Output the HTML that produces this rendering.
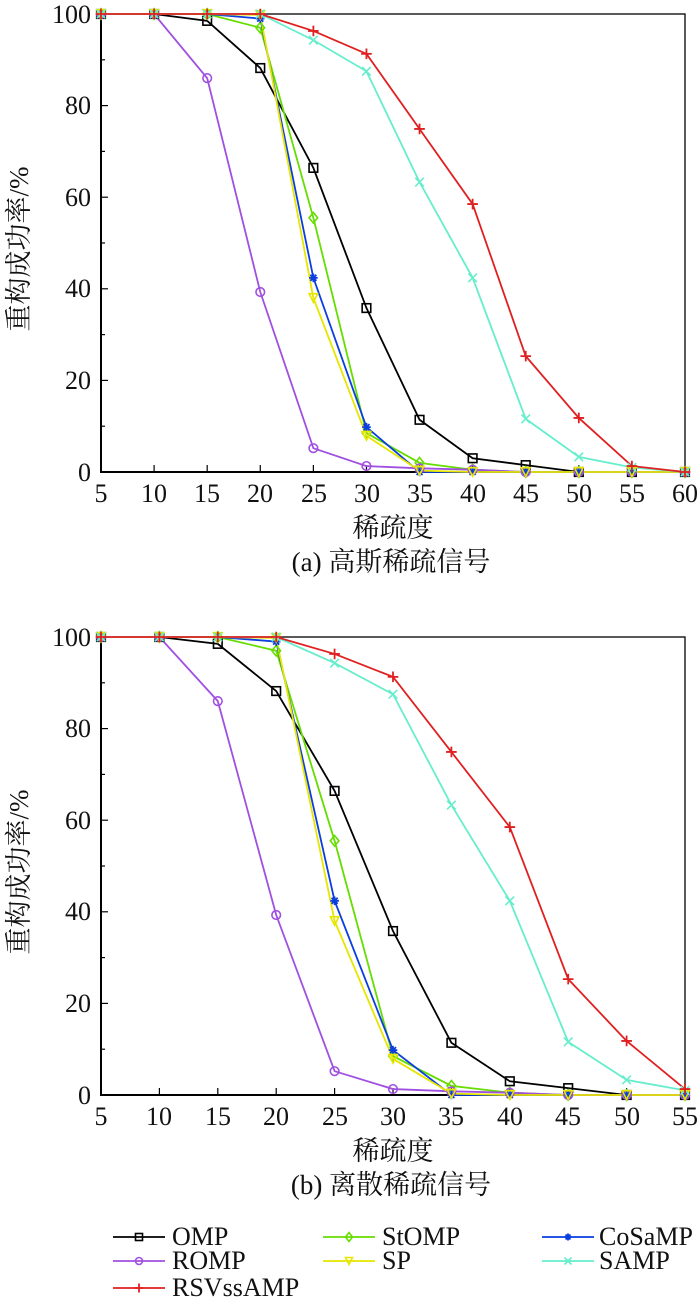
<!DOCTYPE html>
<html><head><meta charset="utf-8"><style>
html,body{margin:0;padding:0;background:#fff}
svg{display:block}
text{font-family:"Liberation Serif","Noto Serif CJK SC",serif;fill:#111}
</style></head><body>
<svg id="s" width="700" height="1306" viewBox="0 0 700 1306" xmlns="http://www.w3.org/2000/svg">
<g font-size="26">
<text x="91" y="23" text-anchor="end">100</text>
<text x="91" y="114" text-anchor="end">80</text>
<text x="91" y="206" text-anchor="end">60</text>
<text x="91" y="297" text-anchor="end">40</text>
<text x="91" y="389" text-anchor="end">20</text>
<text x="91" y="481" text-anchor="end">0</text>
<text x="101" y="502" text-anchor="middle">5</text>
<text x="154" y="502" text-anchor="middle">10</text>
<text x="207" y="502" text-anchor="middle">15</text>
<text x="260" y="502" text-anchor="middle">20</text>
<text x="314" y="502" text-anchor="middle">25</text>
<text x="367" y="502" text-anchor="middle">30</text>
<text x="420" y="502" text-anchor="middle">35</text>
<text x="473" y="502" text-anchor="middle">40</text>
<text x="526" y="502" text-anchor="middle">45</text>
<text x="579" y="502" text-anchor="middle">50</text>
<text x="632" y="502" text-anchor="middle">55</text>
<text x="685" y="502" text-anchor="middle">60</text>
<text x="393" y="537" text-anchor="middle" font-size="27">稀疏度</text>
<text x="391" y="571" text-anchor="middle" font-size="27">(a) 高斯稀疏信号</text>
<text transform="translate(28,249) rotate(-90)" text-anchor="middle" font-size="27">重构成功率/%</text>
<text x="91" y="646" text-anchor="end">100</text>
<text x="91" y="737" text-anchor="end">80</text>
<text x="91" y="829" text-anchor="end">60</text>
<text x="91" y="920" text-anchor="end">40</text>
<text x="91" y="1012" text-anchor="end">20</text>
<text x="91" y="1104" text-anchor="end">0</text>
<text x="101" y="1125" text-anchor="middle">5</text>
<text x="159" y="1125" text-anchor="middle">10</text>
<text x="218" y="1125" text-anchor="middle">15</text>
<text x="276" y="1125" text-anchor="middle">20</text>
<text x="335" y="1125" text-anchor="middle">25</text>
<text x="393" y="1125" text-anchor="middle">30</text>
<text x="451" y="1125" text-anchor="middle">35</text>
<text x="510" y="1125" text-anchor="middle">40</text>
<text x="568" y="1125" text-anchor="middle">45</text>
<text x="627" y="1125" text-anchor="middle">50</text>
<text x="685" y="1125" text-anchor="middle">55</text>
<text x="393" y="1160" text-anchor="middle" font-size="27">稀疏度</text>
<text x="391" y="1194" text-anchor="middle" font-size="27">(b) 离散稀疏信号</text>
<text transform="translate(28,872) rotate(-90)" text-anchor="middle" font-size="27">重构成功率/%</text>
<text x="172" y="1245">OMP</text>
<text x="382" y="1245">StOMP</text>
<text x="599" y="1245">CoSaMP</text>
<text x="172" y="1269">ROMP</text>
<text x="382" y="1269">SP</text>
<text x="599" y="1269">SAMP</text>
<text x="172" y="1296">RSVssAMP</text>
</g>
<g id="g"></g>
</svg>
<script>
var NS="http://www.w3.org/2000/svg",g=document.getElementById("g");
function el(t,a){var e=document.createElementNS(NS,t);for(var k in a)e.setAttribute(k,a[k]);g.appendChild(e);return e;}
var xs=[5,10,15,20,25,30,35,40,45,50,55,60];
var S=[
["#000","sq",[100,100,98.5,88.2,66.4,35.8,11.4,3,1.5,0,0,0]],
["#66dd00","di",[100,100,100,97,55.5,8.5,2,0.5,0,0,0,0]],
["#0a3ee0","as",[100,100,100,99,42.4,9.8,0,0,0,0,0,0]],
["#a050e0","ci",[100,100,86,39.3,5.2,1.3,0.8,0.5,0,0,0,0]],
["#e6e600","tr",[100,100,100,99.8,38,7.9,0.3,0,0,0,0,0]],
["#66eecc","x",[100,100,100,100,94.3,87.5,63.3,42.4,11.6,3.3,1,0]],
["#e02020","pl",[100,100,100,100,96.3,91.3,74.9,58.5,25.3,11.8,1.3,0]]];
function mk(m,x,y,c,r){r=r||4.3;
 if(m=="sq")el("rect",{x:x-r,y:y-r,width:2*r,height:2*r,fill:"none",stroke:c,"stroke-width":1.6});
 else if(m=="ci")el("circle",{cx:x,cy:y,r:r,fill:"none",stroke:c,"stroke-width":1.6});
 else if(m=="di")el("polygon",{points:[x,y-r-1,x+r,y,x,y+r+1,x-r,y].join(" "),fill:"none",stroke:c,"stroke-width":1.6});
 else if(m=="tr")el("polygon",{points:[x-r,y-r,x+r,y-r,x,y+r].join(" "),fill:"none",stroke:c,"stroke-width":1.6});
 else if(m=="x")el("path",{d:"M"+(x-r)+" "+(y-r)+"L"+(x+r)+" "+(y+r)+"M"+(x-r)+" "+(y+r)+"L"+(x+r)+" "+(y-r),stroke:c,"stroke-width":1.6});
 else if(m=="pl")el("path",{d:"M"+(x-r-1)+" "+y+"H"+(x+r+1)+"M"+x+" "+(y-r-1)+"V"+(y+r+1),stroke:c,"stroke-width":1.8});
 else el("path",{d:"M"+(x-r)+" "+y+"H"+(x+r)+"M"+x+" "+(y-r)+"V"+(y+r)+"M"+(x-r*.7)+" "+(y-r*.7)+"L"+(x+r*.7)+" "+(y+r*.7)+"M"+(x-r*.7)+" "+(y+r*.7)+"L"+(x+r*.7)+" "+(y-r*.7),stroke:c,"stroke-width":1.8});
}
function chart(top,bot,xmax){
 var L=101,R=685,n=xmax==60?12:11,px=function(v){return L+(v-5)/(xmax-5)*(R-L)},py=function(v){return bot-v/100*(bot-top)};
 el("rect",{x:L,y:top,width:R-L,height:bot-top,fill:"none",stroke:"#000","stroke-width":1.3});
 el("path",{d:"M"+L+" "+top+"V"+bot+"H"+R,fill:"none",stroke:"#000","stroke-width":2});
 for(var v=0;v<=100;v+=10){var y=py(v);el("line",{x1:L,y1:y,x2:L+(v%20?4:7),y2:y,stroke:"#000","stroke-width":1.2});}
 for(var i=0;i<n;i++){var x=px(xs[i]);el("line",{x1:x,y1:bot,x2:x,y2:bot-7,stroke:"#000","stroke-width":1.2});}
 S.forEach(function(s){var p=[];for(var i=0;i<n;i++)p.push(px(xs[i])+","+py(s[2][i]));
  el("polyline",{points:p.join(" "),fill:"none",stroke:s[0],"stroke-width":1.8});});
 S.forEach(function(s){for(var i=0;i<n;i++)mk(s[1],px(xs[i]),py(s[2][i]),s[0]);});
}
chart(14,472,60);chart(637,1095,55);
var LG=[[113,1237],[323,1237],[542,1237],[113,1261],[323,1261],[542,1261],[113,1288]];
S.forEach(function(s,i){var a=LG[i];
 el("line",{x1:a[0],y1:a[1],x2:a[0]+52,y2:a[1],stroke:s[0],"stroke-width":1.8});mk(s[1],a[0]+26,a[1],s[0],3.5);});
</script>
</body></html>
